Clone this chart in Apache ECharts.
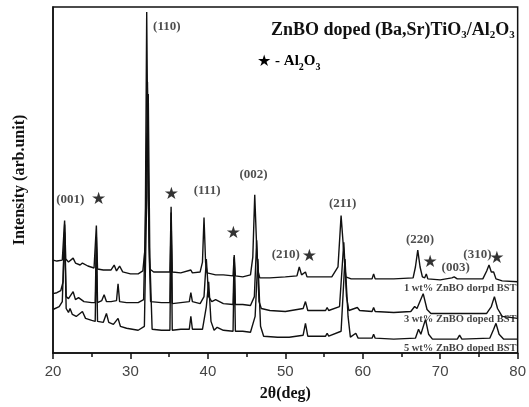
<!DOCTYPE html>
<html>
<head>
<meta charset="utf-8">
<script src="https://cdn.jsdelivr.net/npm/echarts@6/dist/echarts.min.js"></script>
<style>html,body{margin:0;padding:0;background:#fff;}#c{width:529px;height:407px;}</style>
</head>
<body>
<div id="c"></div>
<script>
// 2θ (deg), intensity (arb. units, offset-stacked as in the figure)
const trace1wt = [
[20.0,94],[20.5,93],[21.2,94],[21.5,134],[21.65,95],[22.0,92],[22.6,96],[22.9,91],[23.5,89],[23.8,91],[24.5,88],
[25.3,86],[25.45,85],[25.6,129],[25.75,85],[26.5,84],[27.5,84],[27.9,89],[28.2,83],[28.6,88],[29.0,82],[30.0,80],
[31.0,80],[31.6,83],[31.9,107],[32.1,345],[32.3,157],[32.5,85],[33.0,82],[34.0,82],[35.1,82],[35.25,148],[35.4,82],
[36.5,81],[37.8,84],[38.0,81],[39.0,82],[39.3,92],[39.5,137],[39.7,92],[39.9,81],[41.0,79],[42.0,79],[43.25,78],
[43.4,99],[43.55,78],[44.5,77],[45.5,79],[45.8,97],[46.05,160],[46.3,107],[46.5,82],[46.7,76],[48.0,76],[50.0,77],
[51.5,78],[51.8,87],[52.1,79],[52.6,82],[52.8,77],[54.0,77],[56.0,77],[56.8,87],[57.2,139],[57.5,107],[57.8,77],
[58.5,75],[61.2,75],[61.4,80],[61.6,75],[64.0,75],[66.5,76],[66.8,87],[67.1,104],[67.4,87],[67.7,77],[68.0,76],
[68.2,80],[68.4,75],[70.0,74],[71.5,76],[71.8,77],[72.2,75],[75.5,75],[76.0,83],[76.3,89],[76.6,82],[76.9,82],
[77.2,75],[78.0,73],[80.0,72]
];
const trace3wt = [
[20.0,60],[20.5,61],[21.0,63],[21.3,72],[21.5,130],[21.7,57],[22.0,55],[22.6,62],[22.9,54],[23.3,56],[24.0,52],
[25.0,51],[25.45,51],[25.6,117],[25.75,51],[26.3,53],[26.6,59],[26.9,52],[27.5,52],[28.2,53],[28.4,70],[28.6,52],
[29.5,51],[31.0,51],[31.7,54],[32.0,157],[32.2,274],[32.4,107],[32.6,52],[34.0,51],[35.1,51],[35.25,142],[35.4,50],
[36.5,51],[37.6,52],[37.8,61],[38.0,52],[39.0,50],[39.5,57],[39.8,95],[40.1,57],[40.5,52],[41.0,54],[42.0,50],
[43.25,49],[43.4,97],[43.55,49],[44.5,49],[45.5,48],[46.0,57],[46.3,114],[46.6,52],[46.9,45],[48.0,43],[50.0,42],
[52.3,45],[52.6,52],[52.9,43],[55.2,43],[55.4,46],[55.6,43],[57.0,47],[57.55,112],[57.9,57],[58.2,43],[59.3,46],
[59.6,43],[61.2,42],[61.4,46],[61.6,42],[64.0,41],[66.2,42],[66.7,47],[67.0,45],[67.8,60],[68.3,44],[68.8,40],
[72.0,40],[76.0,40],[76.6,47],[77.0,57],[77.4,45],[78.0,37],[80.0,35]
];
const trace5wt = [
[20.0,44],[20.8,47],[21.2,52],[21.5,122],[21.7,45],[22.0,41],[22.2,45],[22.5,39],[23.0,37],[23.8,42],[24.2,35],
[25.0,33],[25.45,32],[25.6,107],[25.75,32],[26.5,31],[26.9,40],[27.2,31],[27.8,29],[28.4,35],[28.7,27],[29.5,25],
[31.0,23],[31.8,27],[32.1,157],[32.3,262],[32.5,97],[32.8,24],[34.0,23],[35.1,23],[35.25,132],[35.4,23],[36.5,24],
[37.6,24],[37.8,37],[38.0,24],[39.3,24],[39.8,47],[40.1,72],[40.4,32],[40.8,23],[41.2,26],[42.0,23],[43.25,22],
[43.4,95],[43.55,22],[44.5,22],[45.5,21],[46.1,37],[46.45,95],[46.8,27],[47.2,17],[49.0,16],[50.5,16],[52.3,18],
[52.6,30],[52.9,17],[55.2,17],[55.4,20],[55.6,17],[57.2,22],[57.7,95],[58.1,37],[58.4,16],[59.1,20],[59.4,15],
[61.2,15],[61.4,19],[61.6,15],[64.0,14],[66.8,15],[67.2,24],[67.5,19],[68.1,34],[68.5,19],[69.0,14],[72.2,14],
[72.5,18],[72.8,14],[76.4,15],[76.9,24],[77.2,30],[77.6,19],[78.2,14],[80.0,14]
];
const peakLabels = [
  [22.24,155,'(001)'],[34.7,330,'(110)'],[39.9,164,'(111)'],[45.9,180,'(002)'],[50.05,100,'(210)'],
  [57.4,151,'(211)'],[67.4,115,'(220)'],[72.0,86,'(003)'],[74.8,99,'(310)']
];
const starMarks = [[25.9,155],[35.3,160],[43.3,121],[53.1,98],[68.7,91],[77.3,96]];
const sampleLabels = [[79.85,65,'1 wt% ZnBO dorpd BST'],[79.85,34,'3 wt% ZnBO doped BST'],[79.85,5,'5 wt% ZnBO doped BST']];
const xTicks = [20,30,40,50,60,70,80];

const serif = '"Liberation Serif", "DejaVu Serif", serif';
const chart = echarts.init(document.getElementById('c'));
const lineSeries = d => ({type:'line', data:d, showSymbol:false, symbol:'none', animation:false,
  lineStyle:{color:'#111', width:1.4}, z:2});
chart.setOption({
  animation:false,
  grid:{left:53, right:7, top:7, bottom:50, show:true, borderColor:'#111', borderWidth:1.5, backgroundColor:'transparent'},
  title:{
    left:266, top:16,
    text:'{m|ZnBO doped (Ba,Sr)TiO}{s|3}{m|/Al}{s|2}{m|O}{s|3}',
    textStyle:{rich:{
      m:{fontFamily:serif, fontWeight:'bold', fontSize:18, color:'#111', lineHeight:20, verticalAlign:'top'},
      s:{fontFamily:serif, fontWeight:'bold', fontSize:11, color:'#111', lineHeight:11, verticalAlign:'bottom', padding:[10,0,0,0]}
    }}
  },
  graphic:[{
    type:'text', left:257, top:52,
    style:{
      text:'{st|★}{m| - Al}{s|2}{m|O}{s|3}',
      rich:{
        st:{fontFamily:'DejaVu Sans', fontSize:16, color:'#111', lineHeight:18, verticalAlign:'top'},
        m:{fontFamily:serif, fontWeight:'bold', fontSize:15, color:'#111', lineHeight:18, verticalAlign:'top'},
        s:{fontFamily:serif, fontWeight:'bold', fontSize:10, color:'#111', lineHeight:10, verticalAlign:'bottom', padding:[10,0,0,0]}
      }
    }
  }],
  xAxis:{
    type:'value', min:20, max:80, interval:10,
    name:'2θ(deg)', nameLocation:'middle', nameGap:33,
    nameTextStyle:{fontFamily:serif, fontWeight:'bold', fontSize:16, color:'#111'},
    axisLine:{show:true, lineStyle:{color:'#111', width:1.5}},
    axisTick:{show:true, inside:false, length:6, lineStyle:{color:'#111', width:1.5},
      customValues: xTicks},
    minorTick:{show:true, splitNumber:2, length:4, lineStyle:{color:'#111', width:1.5}},
    axisLabel:{fontFamily:'"Liberation Sans", Arial, sans-serif', fontSize:15, color:'#444', margin:11,
      customValues: xTicks},
    splitLine:{show:false}
  },
  yAxis:{
    type:'value', min:0, max:350,
    name:'Intensity (arb.unit)', nameLocation:'middle', nameGap:25,
    nameTextStyle:{fontFamily:serif, fontWeight:'bold', fontSize:16, color:'#111'},
    axisLine:{show:true, lineStyle:{color:'#111', width:1.5}},
    axisTick:{show:false}, axisLabel:{show:false}, splitLine:{show:false}
  },
  series:[
    lineSeries(trace1wt), lineSeries(trace3wt), lineSeries(trace5wt),
    {type:'scatter', symbolSize:0, silent:true, z:5,
      data: peakLabels.map(p=>({value:[p[0],p[1]], name:p[2]})),
      label:{show:true, position:'inside', formatter:'{b}', fontFamily:serif, fontWeight:'bold', fontSize:13, color:'#222'}},
    {type:'scatter', symbolSize:0, silent:true, z:5,
      data: starMarks.map(p=>({value:[p[0],p[1]], name:'★'})),
      label:{show:true, position:'inside', formatter:'{b}', fontFamily:'DejaVu Sans', fontSize:17, color:'#000'}},
    {type:'scatter', symbolSize:0, silent:true, z:5,
      data: sampleLabels.map(p=>({value:[p[0],p[1]], name:p[2]})),
      label:{show:true, position:'inside', align:'right', formatter:'{b}', fontFamily:serif, fontWeight:'bold', fontSize:10.5, color:'#111'}}
  ]
});
</script>
</body>
</html>
